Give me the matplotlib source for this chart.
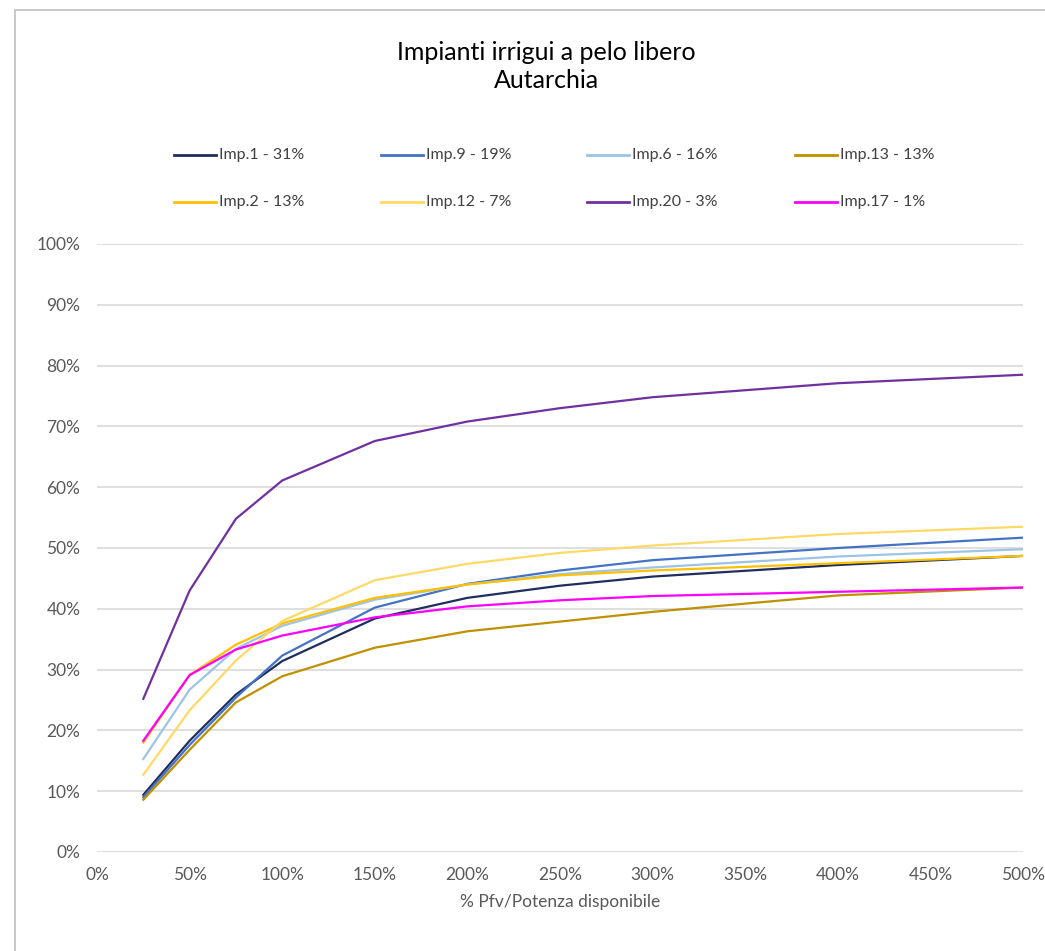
import matplotlib.pyplot as plt
from matplotlib.lines import Line2D
from matplotlib.patches import Rectangle
from matplotlib.ticker import MultipleLocator, FuncFormatter

# Potenza FV in percentuale della potenza disponibile
x = [25, 50, 75, 100, 150, 200, 250, 300, 400, 500]

imp1 = [9.4, 18.3, 25.9, 31.4, 38.4, 41.8, 43.8, 45.3, 47.2, 48.7]
imp9 = [9.0, 17.6, 25.4, 32.3, 40.2, 44.1, 46.3, 48.0, 50.0, 51.7]
imp6 = [15.3, 26.7, 33.4, 37.2, 41.5, 44.0, 45.7, 46.8, 48.6, 49.8]
imp13 = [8.6, 16.8, 24.6, 28.9, 33.6, 36.3, 37.9, 39.5, 42.2, 43.5]
imp2 = [18.0, 29.1, 34.1, 37.6, 41.8, 44.0, 45.5, 46.3, 47.5, 48.7]
imp12 = [12.7, 23.3, 31.5, 38.0, 44.7, 47.4, 49.2, 50.4, 52.3, 53.5]
imp20 = [25.2, 43.0, 54.8, 61.1, 67.6, 70.8, 73.0, 74.8, 77.1, 78.5]
imp17 = [18.3, 29.1, 33.3, 35.6, 38.6, 40.4, 41.4, 42.1, 42.8, 43.5]

labels = ['Imp.1 - 31%', 'Imp.9 - 19%', 'Imp.6 - 16%', 'Imp.13 - 13%',
          'Imp.2 - 13%', 'Imp.12 - 7%', 'Imp.20 - 3%', 'Imp.17 - 1%']
series = [imp1, imp9, imp6, imp13, imp2, imp12, imp20, imp17]
colors = ['#1F2D5F', '#4472C4', '#9DC3E6', '#BF9000',
          '#FFC000', '#FFD966', '#7030A0', '#FF00FF']

plt.rcParams['font.family'] = ['Lato', 'DejaVu Sans']

W, H = 1045, 951
fig = plt.figure(figsize=(W / 100, H / 100), dpi=100)
ax = fig.add_axes([97 / W, 1 - 852 / H, 926 / W, 608 / H])

# cornice dell'area grafico
fig.patches.append(Rectangle((15 / W, -0.1), 1.2, 1 - 10 / H + 0.1,
                             transform=fig.transFigure, fill=False,
                             edgecolor='#BFBFBF', linewidth=1.2))

for y, lab, c in zip(series, labels, colors):
    ax.plot(x, y, color=c, linewidth=1.6, label=lab)

ax.set_xlim(0, 500)
ax.set_ylim(0, 100)
ax.xaxis.set_major_locator(MultipleLocator(50))
ax.yaxis.set_major_locator(MultipleLocator(10))
pct = FuncFormatter(lambda v, pos: f'{v:.0f}%')
ax.xaxis.set_major_formatter(pct)
ax.yaxis.set_major_formatter(pct)

ax.grid(axis='y', color='#D9D9D9', linewidth=1.2)
ax.set_axisbelow(True)
for s in ax.spines.values():
    s.set_visible(False)
ax.tick_params(length=0, labelsize=12.5, labelcolor='#595959')
ax.tick_params(axis='x', pad=11)
ax.tick_params(axis='y', pad=12)

ax.set_xlabel('% Pfv/Potenza disponibile', fontsize=12.5, color='#595959',
              labelpad=8)

fig.text(546 / W, 1 - 52 / H, 'Impianti irrigui a pelo libero',
         ha='center', va='center', fontsize=18)
fig.text(546 / W, 1 - 81 / H, 'Autarchia',
         ha='center', va='center', fontsize=18)

# legenda su due righe, quattro colonne
col_x = [174, 381, 587, 795]
row_y = [155, 202]
for i, (lab, c) in enumerate(zip(labels, colors)):
    px = col_x[i % 4]
    py = row_y[i // 4]
    fig.add_artist(Line2D([px / W, (px + 42) / W], [1 - py / H, 1 - py / H],
                          transform=fig.transFigure, color=c, linewidth=2))
    fig.text((px + 45) / W, 1 - py / H, lab, ha='left', va='center',
             fontsize=11.5, color='#404040')

fig.savefig('out.png', dpi=100, facecolor='white')
